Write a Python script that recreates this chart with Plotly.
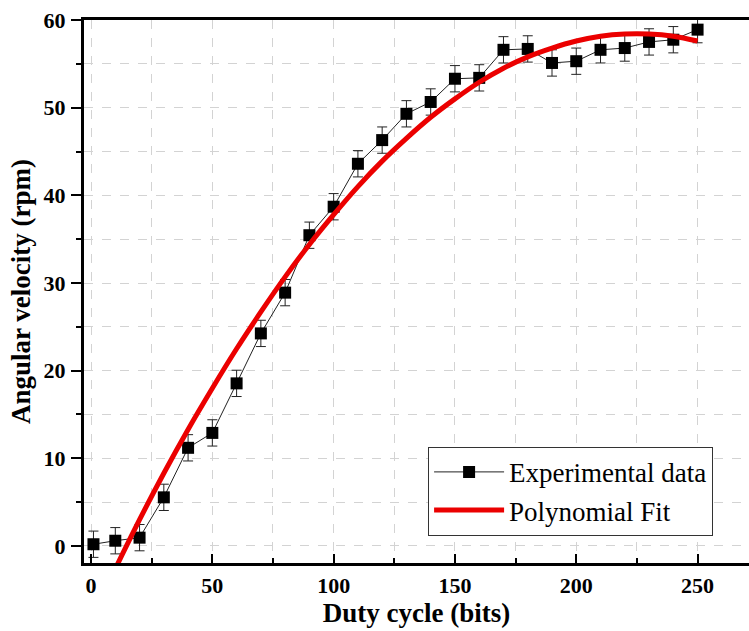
import plotly.graph_objects as go

duty = [1, 10, 20, 30, 40, 50, 60, 70, 80, 90, 100, 110, 120, 130, 140,
        150, 160, 170, 180, 190, 200, 210, 220, 230, 240, 250]
speed = [0.2, 0.6, 0.95, 5.55, 11.2, 12.9, 18.55, 24.25, 28.9, 35.45, 38.7,
         43.6, 46.3, 49.3, 50.65, 53.3, 53.4, 56.6, 56.7, 55.1, 55.3, 56.6,
         56.8, 57.5, 57.75, 58.9]
speed_err = [1.5, 1.5, 1.5, 1.5, 1.5, 1.5, 1.5, 1.5, 1.5, 1.5, 1.5, 1.5,
             1.5, 1.5, 1.5, 1.5, 1.5, 1.5, 1.5, 1.5, 1.5, 1.5, 1.5, 1.5,
             1.5, 1.5]

# Polynomial fit curve
fit_x = [10, 20, 30, 40, 50, 60, 70, 80, 90, 100, 110, 120, 130, 140, 150,
         160, 170, 180, 190, 200, 210, 220, 230, 240, 250]
fit_y = [-2.6, 3.0, 8.3, 13.3, 18.0, 22.5, 26.7, 30.7, 34.4, 37.8, 41.0,
         43.9, 46.5, 48.9, 51.0, 52.9, 54.5, 55.8, 56.8, 57.6, 58.15, 58.4,
         58.4, 58.15, 57.6]

x_ticks = [0, 50, 100, 150, 200, 250]
y_ticks = [0, 10, 20, 30, 40, 50, 60]

FONT = "Liberation Serif, Times New Roman, serif"

fig = go.Figure()
fig.add_trace(go.Scatter(
    x=duty, y=speed, mode="lines+markers", name="Experimental data",
    line=dict(color="#222222", width=1),
    marker=dict(symbol="square", size=12, color="black"),
    error_y=dict(type="data", array=speed_err, visible=True,
                 color="#222222", thickness=1, width=5),
))
fig.add_trace(go.Scatter(
    x=fit_x, y=fit_y, mode="lines", name="Polynomial Fit",
    line=dict(color="rgb(235,0,0)", width=5, shape="spline"),
))

fig.update_layout(
    width=749, height=631,
    margin=dict(l=84, r=0, t=20, b=68),
    plot_bgcolor="white", paper_bgcolor="white",
    font=dict(family=FONT, color="black"),
    showlegend=True,
    legend=dict(
        x=0.946, xanchor="right", y=0.05, yanchor="bottom",
        bgcolor="white", bordercolor="#333333", borderwidth=1,
        font=dict(family=FONT, size=27, color="black"),
        itemwidth=70, tracegroupgap=0,
    ),
)

fig.update_xaxes(
    range=[-2.9, 271.2],
    tickvals=x_ticks,
    ticks="inside", ticklen=9, tickwidth=2, tickcolor="black",
    ticklabelstandoff=1,
    showline=True, linewidth=3, linecolor="black", mirror=True,
    showgrid=False, zeroline=False,
    tickfont=dict(family=FONT, size=22, color="black", weight="bold"),
    title=dict(text="Duty cycle (bits)", standoff=0,
               font=dict(family=FONT, size=27, color="black", weight="bold")),
    minor=dict(dtick=25, tick0=0, ticks="inside", ticklen=5, tickwidth=2,
               tickcolor="black", showgrid=True, gridcolor="#d3d3d3",
               griddash="dash", gridwidth=1),
)
fig.update_yaxes(
    range=[-1.94, 60],
    tickvals=y_ticks,
    ticks="outside", ticklen=10, tickwidth=2, tickcolor="black",
    ticklabelstandoff=1,
    showline=True, linewidth=3, linecolor="black", mirror=False,
    showgrid=False, zeroline=False,
    tickfont=dict(family=FONT, size=22, color="black", weight="bold"),
    title=dict(text="Angular velocity (rpm)", standoff=6,
               font=dict(family=FONT, size=27, color="black", weight="bold")),
    minor=dict(dtick=5, tick0=0, ticks="outside", ticklen=5, tickwidth=2,
               tickcolor="black", showgrid=True, gridcolor="#d3d3d3",
               griddash="dash", gridwidth=1),
)

fig.write_html("out.html")
